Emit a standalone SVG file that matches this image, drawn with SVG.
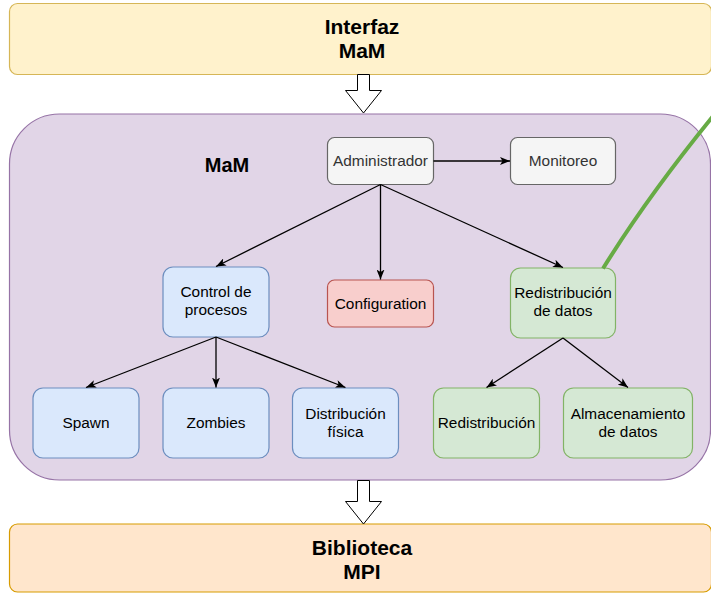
<svg xmlns="http://www.w3.org/2000/svg" width="711" height="594" viewBox="0 0 711 594">
  <style>
    .title { font-family: "Liberation Sans", Arial, sans-serif; font-weight: bold; font-size: 21px; fill: #000; text-anchor: middle; }
    .lbl { font-family: "Liberation Sans", Arial, sans-serif; font-size: 15.4px; fill: #000; text-anchor: middle; }
    .gray rect { fill: #f5f5f5; stroke: #666666; stroke-width: 1.2; }
    .gray text { fill: #333333; }
    .blue rect { fill: #dae8fc; stroke: #6c8ebf; stroke-width: 1.2; }
    .green rect { fill: #d5e8d4; stroke: #82b366; stroke-width: 1.2; }
    .red rect { fill: #f8cecc; stroke: #b85450; stroke-width: 1.2; }
    .edge { stroke: #000; stroke-width: 1.3; fill: none; marker-end: url(#arrow); }
    .block { fill: #ffffff; stroke: #000; stroke-width: 1; stroke-linejoin: miter; }
  </style>
  <defs>
    <marker id="arrow" viewBox="0 0 10 8" refX="10" refY="4" markerWidth="10" markerHeight="8" markerUnits="userSpaceOnUse" orient="auto">
      <path d="M0,0 L10,4 L0,8 L2.5,4 Z" fill="#000"/>
    </marker>
  </defs>

  <!-- Layers -->
  <g id="interfaz">
    <rect x="9.5" y="3.5" width="702" height="71" rx="8" fill="#fff2cc" stroke="#d6b656" stroke-width="1.2"/>
    <text class="title" x="362" y="34">Interfaz</text>
    <text class="title" x="362" y="58">MaM</text>
  </g>

  <g id="mam">
    <rect x="9.5" y="114" width="701" height="366" rx="50" fill="#e1d5e7" stroke="#9673a6" stroke-width="1.2"/>
    <text class="title" x="227" y="172" style="font-size:20px">MaM</text>
  </g>

  <g id="biblioteca">
    <rect x="9.5" y="524" width="702" height="68" rx="8" fill="#ffe6cc" stroke="#d79b00" stroke-width="1.2"/>
    <text class="title" x="362" y="555">Biblioteca</text>
    <text class="title" x="362" y="579">MPI</text>
  </g>

  <!-- Nodes -->
  <g id="administrador" class="gray">
    <rect x="327.5" y="137.5" width="106" height="47" rx="7"/>
    <text class="lbl" x="380.5" y="166">Administrador</text>
  </g>
  <g id="monitoreo" class="gray">
    <rect x="510.5" y="137.5" width="105" height="47" rx="7"/>
    <text class="lbl" x="563" y="166">Monitoreo</text>
  </g>
  <g id="control" class="blue">
    <rect x="163" y="267" width="106" height="70" rx="10"/>
    <text class="lbl" x="216" y="297">Control de</text>
    <text class="lbl" x="216" y="315">procesos</text>
  </g>
  <g id="configuration" class="red">
    <rect x="327.5" y="280" width="106" height="47" rx="7"/>
    <text class="lbl" x="380.5" y="308.5">Configuration</text>
  </g>
  <g id="redistribucion-datos" class="green">
    <rect x="510.5" y="268" width="105" height="70" rx="10"/>
    <text class="lbl" x="563" y="298">Redistribución</text>
    <text class="lbl" x="563" y="316">de datos</text>
  </g>
  <g id="spawn" class="blue">
    <rect x="33" y="388" width="106" height="70" rx="10"/>
    <text class="lbl" x="86" y="428">Spawn</text>
  </g>
  <g id="zombies" class="blue">
    <rect x="163" y="388" width="106" height="70" rx="10"/>
    <text class="lbl" x="216" y="428">Zombies</text>
  </g>
  <g id="distribucion-fisica" class="blue">
    <rect x="292.5" y="388" width="106" height="70" rx="10"/>
    <text class="lbl" x="345.5" y="418.5">Distribución</text>
    <text class="lbl" x="345.5" y="436.5">física</text>
  </g>
  <g id="redistribucion" class="green">
    <rect x="433.5" y="388" width="106" height="70" rx="10"/>
    <text class="lbl" x="486.5" y="428">Redistribución</text>
  </g>
  <g id="almacenamiento" class="green">
    <rect x="563.5" y="388" width="129" height="70" rx="10"/>
    <text class="lbl" x="628" y="418.5">Almacenamiento</text>
    <text class="lbl" x="628" y="436.5">de datos</text>
  </g>

  <!-- Connectors -->
  <g id="connectors">
    <!-- block arrows between layers -->
    <path class="block" d="M357.5,74.5 L369.5,74.5 L369.5,90.5 L381.5,90.5 L363.5,113 L345.5,90.5 L357.5,90.5 Z"/>
    <path class="block" d="M357.5,480.5 L369.5,480.5 L369.5,501.5 L381.5,501.5 L363.5,524 L345.5,501.5 L357.5,501.5 Z"/>

    <line class="edge" x1="433.5" y1="161" x2="510" y2="161"/>
    <line class="edge" x1="380.5" y1="184.5" x2="216" y2="266.5"/>
    <line class="edge" x1="380.5" y1="184.5" x2="380.5" y2="279.5"/>
    <line class="edge" x1="380.5" y1="184.5" x2="563" y2="267.5"/>

    <line class="edge" x1="216" y1="337" x2="86" y2="387.5"/>
    <line class="edge" x1="216" y1="337" x2="216" y2="387.5"/>
    <line class="edge" x1="216" y1="337" x2="345.5" y2="387.5"/>

    <line class="edge" x1="563" y1="338" x2="486.5" y2="387.5"/>
    <line class="edge" x1="563" y1="338" x2="628" y2="387.5"/>

    <!-- outgoing green link -->
    <path d="M603,268.5 Q648,196 714,115" fill="none" stroke="#67ab45" stroke-width="4"/>
  </g>
</svg>
